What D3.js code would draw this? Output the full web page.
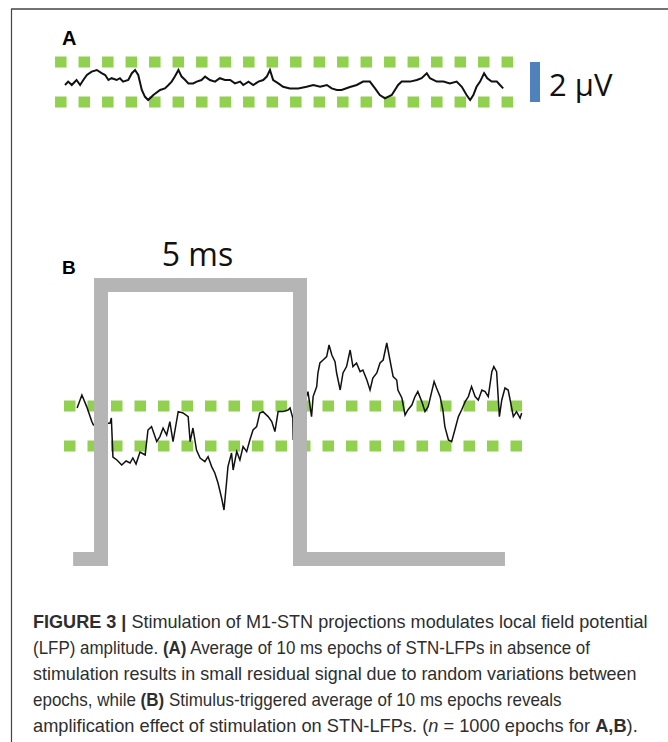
<!DOCTYPE html>
<html>
<head>
<meta charset="utf-8">
<script src="https://cdn.jsdelivr.net/npm/d3@7"></script>
<style>
  body { margin: 0; background: #fff; }
  svg { display: block; }
</style>
</head>
<body>
<div id="fig"></div>
<script>
var width = 668;
var height = 742;

// panel A: average without stimulation (time in ms, potential in uV)
var traceAT = [0,0.08,0.17,0.29,0.38,0.46,0.55,0.67,0.80,0.92,1.01,1.09,1.17,1.30,1.38,1.46,1.59,1.68,1.76,1.84,
  1.93,2.01,2.09,2.22,2.39,2.51,2.60,2.68,2.76,2.85,2.93,3.02,3.10,3.22,3.31,3.43,3.52,3.64,3.77,3.89,
  4.02,4.15,4.27,4.40,4.48,4.61,4.73,4.86,4.98,5.07,5.15,5.23,5.36,5.48,5.65,5.86,6.07,6.24,6.41,6.58,
  6.70,6.83,6.95,7.16,7.33,7.49,7.66,7.79,7.91,8.04,8.21,8.37,8.46,8.67,8.84,8.96,9.09,9.17,9.34,9.51,
  9.67,9.84,9.97,10.09,10.18,10.26,10.34,10.43,10.53,10.61,10.72,10.85,10.93,11.01];
var traceAV = [-0.15,0.02,-0.15,0.10,-0.15,0.10,0.35,0.52,0.60,0.44,0.35,0.10,0.19,0.10,0.19,0.02,0.10,0.44,0.60,0.35,
  -0.40,-0.74,-0.90,-0.65,-0.40,-0.32,-0.15,0.02,0.27,0.60,0.27,0.10,-0.07,-0.07,0.02,0.10,0.27,0.10,0.02,0.19,
  0.10,0.10,-0.07,0.02,-0.15,0.02,-0.15,0.02,0.10,0.27,0.60,0.10,-0.07,-0.24,-0.32,-0.32,-0.24,-0.15,-0.24,-0.15,
  -0.32,-0.40,-0.40,-0.25,-0.15,0.02,0.02,-0.32,-0.65,-0.82,-0.65,-0.15,0.02,0.02,0.10,0.19,0.44,0.19,0.02,0.02,
  -0.07,0.02,-0.24,-0.65,-0.90,-0.65,-0.24,0.02,0.44,0.19,0.02,0.02,-0.15,-0.32];

// panel B: stimulus-triggered average
var traceBT = [-0.60,-0.48,-0.36,-0.23,-0.19,0.23,0.26,0.30,0.40,0.52,0.63,0.73,0.80,0.88,0.98,1.11,1.18,1.27,1.40,1.48,
  1.56,1.65,1.73,1.81,1.94,2.06,2.19,2.24,2.31,2.40,2.49,2.61,2.69,2.78,2.86,2.94,3.03,3.09,3.16,3.19,
  3.28,3.32,3.41,3.49,3.57,3.66,3.74,3.82,3.91,3.99,4.07,4.20,4.29,4.37,4.45,4.57,4.70,4.75,4.82,4.83,
  5.20,5.29,5.33,5.42,5.45,5.50,5.58,5.67,5.73,5.80,5.88,5.92,6.01,6.08,6.17,6.26,6.33,6.42,6.51,6.58,
  6.68,6.76,6.83,6.93,7.01,7.09,7.18,7.26,7.34,7.43,7.46,7.56,7.64,7.71,7.81,7.89,7.96,8.06,8.14,8.22,
  8.31,8.37,8.43,8.52,8.59,8.64,8.73,8.81,8.89,8.98,9.06,9.15,9.23,9.31,9.40,9.48,9.57,9.65,9.73,9.82,
  9.87,9.94,10.01,10.07,10.15,10.23,10.28,10.36,10.44,10.53,10.57];
var traceBV = [0.90,1.55,0.97,0.22,0.05,0.15,0.40,-1.55,-1.70,-1.95,-1.75,-1.85,-1.60,-1.90,-1.30,-1.45,-0.20,-0.03,-0.78,-0.53,
  -0.10,-0.45,0.22,-0.78,0.72,0.65,0.47,-0.78,-0.10,-1.20,-1.60,-1.78,-1.53,-2.03,-2.35,-2.85,-3.60,-4.20,-2.70,-2.03,
  -1.35,-2.20,-1.28,-1.70,-1.03,-1.28,-0.70,-0.20,-0.03,0.65,0.72,0.47,0.22,-0.28,0.72,0.72,0.80,0.90,0.40,-0.70,
  1.72,0.47,1.47,1.97,2.65,3.15,3.30,3.47,4.05,3.55,3.22,2.65,1.80,2.65,2.97,3.80,2.97,3.15,2.72,2.80,
  2.30,1.80,2.40,2.65,3.15,3.30,4.15,3.30,2.47,2.30,1.80,1.40,0.55,0.80,1.05,1.47,1.72,1.22,0.72,0.97,
  1.72,2.22,1.90,1.47,0.80,-0.03,-0.70,-0.78,-0.20,0.47,0.80,1.22,1.47,1.97,1.47,1.30,1.80,1.72,1.47,2.72,
  2.97,2.72,0.47,1.30,1.90,1.80,1.30,0.47,0.72,0.40,0.65];

// stimulus pulse (5 ms)
var stimT = [-0.70, 0, 0, 5, 5, 10.15];
var stimOn = [0, 0, 1, 1, 0, 0];

// dotted threshold lines (uV) and their time extent
var thresholds = [-1, 1];
var threshA = [-0.25, 11.26];
var threshB = [-0.93, 10.60];
var scaleBarUV = 2;

var green = "#92d050";
var grey = "#b5b5b5";

var svg = d3.select("#fig")
  .append("svg")
  .attr("width", width)
  .attr("height", height);

// frame lines
svg.append("line").attr("x1", 11.5).attr("x2", width).attr("y1", 9).attr("y2", 9)
  .attr("stroke", "#444").attr("stroke-width", 1.5);
svg.append("line").attr("x1", 11.5).attr("x2", 11.5).attr("y1", 8.5).attr("y2", height)
  .attr("stroke", "#444").attr("stroke-width", 1.2);

// ---- panel A ----
var axScale = d3.scaleLinear().domain([0, 5]).range([65, 264]);
var ayScale = d3.scaleLinear().domain([-1, 1]).range([102, 62]);

svg.append("text").attr("x", 62).attr("y", 45)
  .attr("font-family", "Liberation Sans, Arial, sans-serif").attr("font-weight", "bold")
  .attr("font-size", 20).text("A");

svg.selectAll(".thA").data(thresholds).enter().append("line")
  .attr("class", "thA")
  .attr("x1", axScale(threshA[0])).attr("x2", axScale(threshA[1]))
  .attr("y1", function(d) { return ayScale(d); })
  .attr("y2", function(d) { return ayScale(d); })
  .attr("stroke", green).attr("stroke-width", 11)
  .attr("stroke-dasharray", "11.5,12");

var lineA = d3.line()
  .x(function(d, i) { return axScale(traceAT[i]); })
  .y(function(d) { return ayScale(d); });

svg.append("path").datum(traceAV)
  .attr("d", lineA)
  .attr("fill", "none").attr("stroke", "#111").attr("stroke-width", 2)
  .attr("stroke-linejoin", "miter");

svg.append("rect")
  .attr("x", 530).attr("width", 10)
  .attr("y", ayScale(scaleBarUV / 2))
  .attr("height", ayScale(-scaleBarUV / 2) - ayScale(scaleBarUV / 2))
  .attr("fill", "#4f81bd");

svg.append("text").attr("x", 549).attr("y", 96)
  .attr("font-family", "Open Sans, sans-serif").attr("font-size", 31)
  .attr("fill", "#111")
  .text(scaleBarUV + " \u03bcV");

// ---- panel B ----
var bxScale = d3.scaleLinear().domain([0, 5]).range([101, 300]);
var byScale = d3.scaleLinear().domain([-1, 1]).range([446, 406]);
var stimY = d3.scaleLinear().domain([0, 1]).range([559, 285]);

svg.append("text").attr("x", 62).attr("y", 274)
  .attr("font-family", "Liberation Sans, Arial, sans-serif").attr("font-weight", "bold")
  .attr("font-size", 19).text("B");

svg.append("text")
  .attr("x", (bxScale(0) + bxScale(5)) / 2 - 3).attr("y", 266)
  .attr("text-anchor", "middle")
  .attr("font-family", "Open Sans, sans-serif").attr("font-size", 32)
  .attr("fill", "#111")
  .text("5 ms");

svg.selectAll(".thB").data(thresholds).enter().append("line")
  .attr("class", "thB")
  .attr("x1", bxScale(threshB[0])).attr("x2", bxScale(threshB[1]))
  .attr("y1", function(d) { return byScale(d); })
  .attr("y2", function(d) { return byScale(d); })
  .attr("stroke", green).attr("stroke-width", 11)
  .attr("stroke-dasharray", "11.5,12");

var lineB = d3.line()
  .x(function(d, i) { return bxScale(traceBT[i]); })
  .y(function(d) { return byScale(d); });

svg.append("path").datum(traceBV)
  .attr("d", lineB)
  .attr("fill", "none").attr("stroke", "#111").attr("stroke-width", 1.5);

var stimLine = d3.line()
  .x(function(d, i) { return bxScale(stimT[i]); })
  .y(function(d) { return stimY(d); });

svg.append("path").datum(stimOn)
  .attr("d", stimLine)
  .attr("fill", "none").attr("stroke", grey).attr("stroke-width", 14)
  .attr("stroke-linejoin", "miter");

// ---- caption ----
var capLines = [
  [["FIGURE 3 |", "b"], [" Stimulation of M1-STN projections modulates local field potential", ""]],
  [["(LFP) amplitude. ", ""], ["(A)", "b"], [" Average of 10 ms epochs of STN-LFPs in absence of", ""]],
  [["stimulation results in small residual signal due to random variations between", ""]],
  [["epochs, while ", ""], ["(B)", "b"], [" Stimulus-triggered average of 10 ms epochs reveals", ""]],
  [["amplification effect of stimulation on STN-LFPs. (", ""], ["n", "i"], [" = 1000 epochs for ", ""], ["A,B", "b"], [").", ""]]
];
var capWidths = [615, 557, 604, 529, 605];

capLines.forEach(function(parts, i) {
  var t = svg.append("text")
    .attr("x", 33).attr("y", 628 + i * 26)
    .attr("font-family", "Liberation Sans Narrow, Liberation Sans, Arial, sans-serif")
    .attr("font-size", 17.5)
    .attr("fill", "#2e2e2e");
  parts.forEach(function(p) {
    t.append("tspan")
      .attr("font-weight", p[1] === "b" ? "bold" : null)
      .attr("font-style", p[1] === "i" ? "italic" : null)
      .text(p[0]);
  });
  var w = t.node().getComputedTextLength();
  var sx = capWidths[i] / w;
  t.attr("transform", "translate(33,0) scale(" + sx + ",1) translate(-33,0)");
});
</script>
</body>
</html>
